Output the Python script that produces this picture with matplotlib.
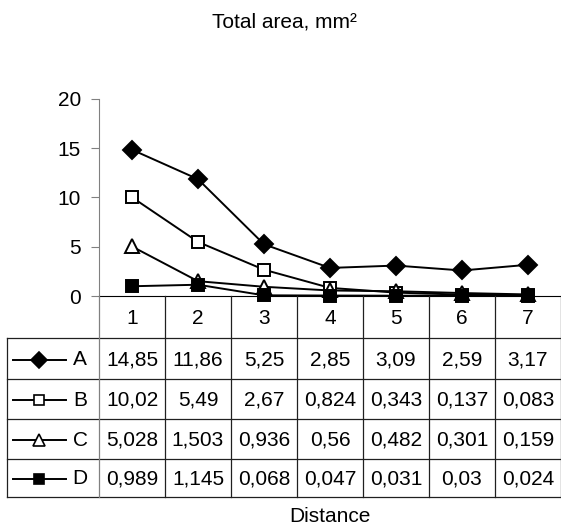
import matplotlib
matplotlib.use('Agg')
import matplotlib.pyplot as plt

plt.rcParams['font.family'] = ['Liberation Sans', 'DejaVu Sans']

distances = ['1', '2', '3', '4', '5', '6', '7']
series_names = ['A', 'B', 'C', 'D']
values_a = [14.85, 11.86, 5.25, 2.85, 3.09, 2.59, 3.17]
values_b = [10.02, 5.49, 2.67, 0.824, 0.343, 0.137, 0.083]
values_c = [5.028, 1.503, 0.936, 0.56, 0.482, 0.301, 0.159]
values_d = [0.989, 1.145, 0.068, 0.047, 0.031, 0.03, 0.024]
labels_a = ['14,85', '11,86', '5,25', '2,85', '3,09', '2,59', '3,17']
labels_b = ['10,02', '5,49', '2,67', '0,824', '0,343', '0,137', '0,083']
labels_c = ['5,028', '1,503', '0,936', '0,56', '0,482', '0,301', '0,159']
labels_d = ['0,989', '1,145', '0,068', '0,047', '0,031', '0,03', '0,024']

all_values = [values_a, values_b, values_c, values_d]
all_labels = [labels_a, labels_b, labels_c, labels_d]
# marker, couleur de remplissage, taille
styles = [('D', 'black', 9), ('s', 'white', 9), ('^', 'white', 9.5), ('s', 'black', 9)]

W, H = 561, 527
fig = plt.figure(figsize=(W / 100, H / 100), dpi=100)
fs = 15

# --- graphique ---
ax = fig.add_axes([99 / W, (H - 296) / H, (W - 99) / W, 197 / H])
xs = [i + 0.5 for i in range(len(distances))]
for vals, (m, fc, ms) in zip(all_values, styles):
    ax.plot(xs, vals, color='black', lw=1.4, marker=m, markerfacecolor=fc,
            markeredgecolor='black', markeredgewidth=1.4, markersize=ms, clip_on=False)
ax.set_xlim(0, 7)
ax.set_ylim(0, 20)
ax.set_yticks([0, 5, 10, 15, 20])
ax.set_xticks([])
for s in ['top', 'right']:
    ax.spines[s].set_visible(False)
ax.spines['left'].set_color('#808080')
ax.spines['bottom'].set_color('black')
ax.tick_params(axis='y', length=6, color='#808080', labelsize=fs, pad=7)
ax.patch.set_alpha(0)

# --- tableau de données ---
tx0 = 7
col_w = 66
ta = fig.add_axes([tx0 / W, (H - 497) / H, (W - tx0) / W, 201 / H])
ta.set_xlim(-(99 - tx0) / col_w, 7)
ta.set_ylim(497, 296)
ta.axis('off')
lc = '#202020'
lw = 0.9
row_y = [338, 379, 419, 459, 497]
left = -(99 - tx0) / col_w
for y in row_y:
    ta.plot([left, 7], [y, y], color=lc, lw=lw, clip_on=False)
ta.plot([left, left], [338, 497], color=lc, lw=lw, clip_on=False)
for j in range(1, 8):
    ta.plot([j, j], [296, 497], color=lc, lw=lw, clip_on=False)
ta.plot([0, 0], [296, 497], color='#808080', lw=lw, clip_on=False)

for j, d in enumerate(distances):
    ta.text(j + 0.5, 318, d, ha='center', va='center', fontsize=fs)

for r in range(4):
    yc = (row_y[r] + row_y[r + 1]) / 2 + 1
    for j, lab in enumerate(all_labels[r]):
        ta.text(j + 0.5, yc, lab, ha='center', va='center', fontsize=fs)
    m, fc, ms = styles[r]
    k0 = left + (13 - tx0) / col_w
    k1 = left + (66 - tx0) / col_w
    km = left + (39 - tx0) / col_w
    ta.plot([k0, k1], [yc, yc], color='black', lw=1.4, clip_on=False)
    ta.plot([km], [yc], marker=m, markerfacecolor=fc, markeredgecolor='black',
            markeredgewidth=1.2, markersize=ms * 0.85, clip_on=False)
    ta.text(left + (80 - tx0) / col_w, yc, series_names[r], ha='center', va='center', fontsize=fs)

fig.text(330 / W, 1 - 517 / H, 'Distance', ha='center', va='center', fontsize=fs)
fig.text(284 / W, 1 - 22 / H, 'Total area, mm²', ha='center', va='center', fontsize=fs)

fig.savefig('out.png', dpi=100)
